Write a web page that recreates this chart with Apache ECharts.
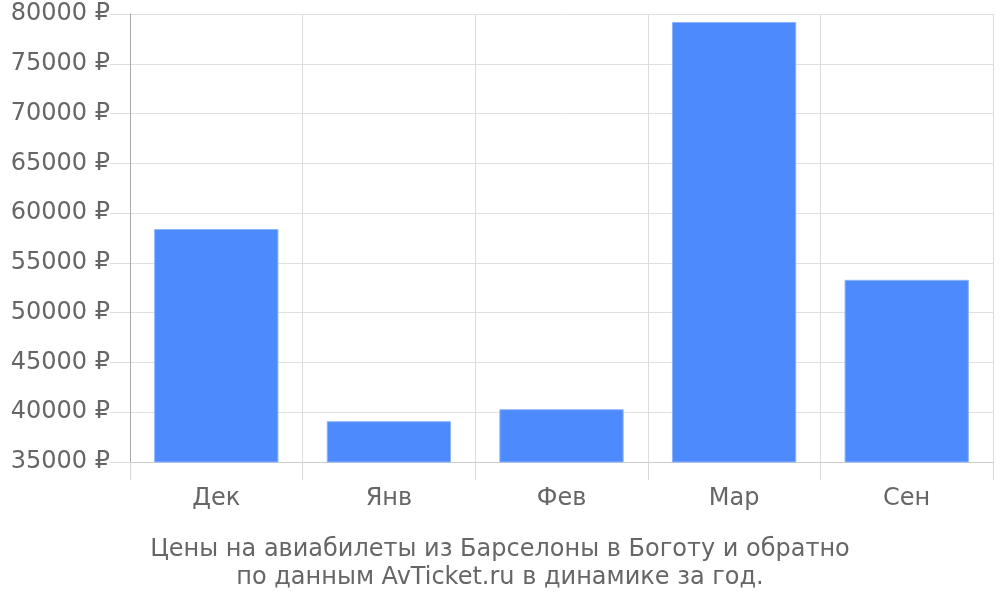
<!DOCTYPE html>
<html><head><meta charset="utf-8">
<script src="https://cdn.jsdelivr.net/npm/echarts@6/dist/echarts.min.js"></script>
<style>html,body{margin:0;padding:0;background:#fff}#c{width:1000px;height:600px}</style>
</head><body><div id="c"></div>
<script>
const categories = ['Дек', 'Янв', 'Фев', 'Мар', 'Сен'];
const prices = [58400, 39100, 40300, 79200, 53300];
const yMin = 35000, yMax = 80000, yStep = 5000;
const titleText = 'Цены на авиабилеты из Барселоны в Боготу и обратно\nпо данным AvTicket.ru в динамике за год.';

const chart = echarts.init(document.getElementById('c'), null, {renderer: 'canvas'});
chart.setOption({
  animation: false,
  textStyle: {fontFamily: 'DejaVu Sans'},
  title: {
    text: titleText, left: 'center', bottom: 3,
    textStyle: {fontFamily: 'DejaVu Sans', fontSize: 24, fontWeight: 'normal', color: '#666', lineHeight: 28, align: 'center'}
  },
  grid: {left: 130, right: 7, top: 14, bottom: 138, containLabel: false},
  xAxis: {
    type: 'category', data: categories,
    axisLine: {show: true, lineStyle: {color: '#ccc'}},
    axisTick: {show: true, length: 18, lineStyle: {color: '#d8d8d8'}},
    axisLabel: {fontSize: 24, color: '#666', margin: 25, fontFamily: 'DejaVu Sans'},
    splitLine: {show: true, lineStyle: {color: '#ddd'}}
  },
  yAxis: {
    type: 'value', min: yMin, max: yMax, interval: yStep,
    axisLine: {show: true, lineStyle: {color: '#aaa'}},
    axisTick: {show: true, length: 20, lineStyle: {color: '#ddd'}},
    axisLabel: {fontSize: 24, color: '#666', margin: 20, fontFamily: 'DejaVu Sans', formatter: v => v + ' ₽'},
    splitLine: {show: true, lineStyle: {color: '#e0e0e0'}}
  },
  series: [{
    type: 'bar', data: prices, barWidth: '72%',
    itemStyle: {color: '#4d8afc', borderColor: '#8db3fd', borderWidth: 1}
  }]
});
</script></body></html>
